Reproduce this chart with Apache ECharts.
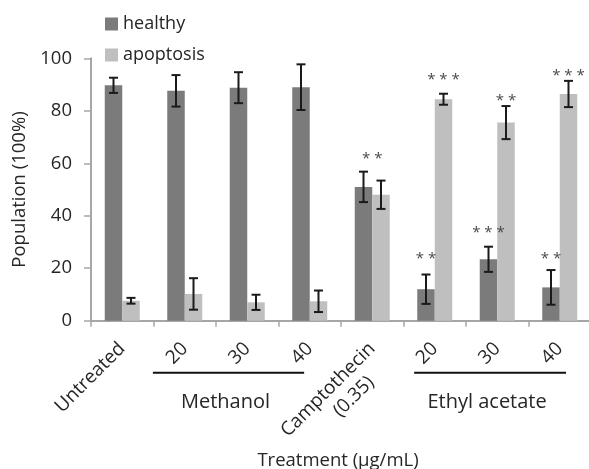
<!DOCTYPE html>
<html>
<head>
<meta charset="utf-8">
<script src="https://cdn.jsdelivr.net/npm/echarts@6/dist/echarts.min.js"></script>
<style>html,body{margin:0;padding:0;background:#fff;}#c{width:589px;height:469px;}</style>
</head>
<body>
<div id="c"></div>
<script>
// ---- data ----
var categories = ['Untreated', '20', '30', '40', 'Camptothecin\n(0.35)', '20', '30', '40'];
var seriesNames = ['healthy', 'apoptosis'];
var healthy = [89.7, 87.6, 88.8, 89.0, 51.0, 12.0, 23.4, 12.7];
var healthyErr = [2.9, 6.0, 5.9, 8.7, 5.8, 5.6, 4.8, 6.6];
var apoptosis = [7.6, 10.2, 7.0, 7.4, 48.0, 84.4, 75.5, 86.4];
var apoptosisErr = [1.1, 6.0, 2.9, 4.1, 5.4, 2.1, 6.3, 5.0];
// significance marks (text, and level in data units)
var healthySigText = ['', '', '', '', '', '* *', '* * *', '* *'];
var healthySigY = [null, null, null, null, null, 25.3, 35.1, 25.3];
var apoptosisSigText = ['', '', '', '', '', '* * *', '* *', '* * *'];
var apoptosisSigY = [null, null, null, null, null, 93.3, 85.4, 94.7];
var groupSigText = ['', '', '', '', '* *', '', '', ''];
var groupSigY = [null, null, null, null, 63.1, null, null, null];
// category group brackets (span in category units)
var groupNames = ['Methanol', 'Ethyl acetate'];
var groupFrom = [0.49, 4.67];
var groupTo = [2.91, 7.1];
var yTicks = [0, 20, 40, 60, 80, 100];
var xAxisName = 'Treatment (µg/mL)';
var yAxisName = 'Population (100%)';

// ---- chart ----
var FONT = '"Open Sans", sans-serif';
var TXT = '#262626';
var AX = '#a6a6a6';
var colors = ['#7b7b7b', '#bfbfbf'];
var OFF = 0.14;      // bar centre offset in fraction of band
var LABEL_MARGIN = 25;
var NBSP = '\u00a0\u00a0\u00a0\u00a0\u00a0';

function errData(vals, errs) {
  return vals.map(function (v, i) { return [i, v, errs[i]]; });
}
function sigData(texts, ys) {
  var out = [];
  texts.forEach(function (t, i) { if (t) out.push([i, ys[i], t]); });
  return out;
}
function errRender(sign) {
  return function (params, api) {
    var i = api.value(0), v = api.value(1), e = api.value(2);
    var bw = api.size([1, 0])[0];
    var x = api.coord([i, v])[0] + sign * bw * OFF;
    var yt = api.coord([i, v + e])[1];
    var yb = api.coord([i, v - e])[1];
    var cap = 4.5;
    var st = { stroke: '#1a1a1a', lineWidth: 2 };
    return {
      type: 'group', children: [
        { type: 'line', shape: { x1: x, y1: yt, x2: x, y2: yb }, style: st },
        { type: 'line', shape: { x1: x - cap, y1: yt, x2: x + cap, y2: yt }, style: st },
        { type: 'line', shape: { x1: x - cap, y1: yb, x2: x + cap, y2: yb }, style: st }
      ]
    };
  };
}
function sigRender(sign) {
  return function (params, api) {
    var i = api.value(0), v = api.value(1);
    var bw = api.size([1, 0])[0];
    var p = api.coord([i, v]);
    return {
      type: 'text',
      style: {
        x: p[0] + sign * bw * OFF, y: p[1] + 4,
        text: api.value(2), align: 'center', verticalAlign: 'middle',
        fill: '#4a4a4a', font: '15px ' + FONT
      }
    };
  };
}

var groupData = groupNames.map(function (n, k) { return [groupFrom[k], groupTo[k], n]; });
// multi-line category labels drawn separately (rotated, first line aligned like the others)
var multiLabelData = [];
categories.forEach(function (c, i) { if (c.indexOf('\n') >= 0) multiLabelData.push([i, 0]); });

var option = {
  animation: false,
  backgroundColor: '#fff',
  textStyle: { fontFamily: FONT },
  legend: {
    data: seriesNames,
    orient: 'vertical', left: 100, top: 10,
    icon: 'rect', itemWidth: 13, itemHeight: 13, itemGap: 13,
    textStyle: { fontSize: 18, color: TXT, fontFamily: FONT }
  },
  grid: { left: 91, top: 58.3, width: 500, height: 262.4, containLabel: false, outerBoundsMode: 'none' },
  xAxis: {
    type: 'category',
    data: categories,
    axisLine: { show: true, lineStyle: { color: AX, width: 2 } },
    axisTick: { show: true, length: 6, lineStyle: { color: AX, width: 1.5 } },
    axisLabel: {
      rotate: 45, margin: LABEL_MARGIN, fontSize: 19, color: TXT, fontFamily: FONT, interval: 0,
      formatter: function (v) { return v.indexOf('\n') >= 0 ? '' : v; }
    },
    name: xAxisName, nameLocation: 'middle', nameGap: 131,
    nameTextStyle: { fontSize: 18.5, color: TXT, fontFamily: FONT, padding: [0, 6, 0, 0] }
  },
  yAxis: {
    type: 'value', min: 0, max: 100, interval: 20,
    axisLine: { show: true, lineStyle: { color: AX, width: 2 } },
    axisTick: { show: true, length: 7, lineStyle: { color: AX, width: 1.5 } },
    splitLine: { show: false },
    axisLabel: {
      margin: 19, fontSize: 18.5, color: TXT, fontFamily: FONT,
      formatter: function (v) { return yTicks.indexOf(v) >= 0 ? String(v) : ''; }
    },
    name: yAxisName, nameLocation: 'middle', nameGap: 52,
    nameTextStyle: { fontSize: 18.5, color: TXT, fontFamily: FONT }
  },
  series: [
    { name: seriesNames[0], type: 'bar', data: healthy, barWidth: '28%', barGap: '0%', itemStyle: { color: colors[0] } },
    { name: seriesNames[1], type: 'bar', data: apoptosis, barWidth: '28%', barGap: '0%', itemStyle: { color: colors[1] } },
    { type: 'custom', data: errData(healthy, healthyErr), renderItem: errRender(-1), z: 5, silent: true },
    { type: 'custom', data: errData(apoptosis, apoptosisErr), renderItem: errRender(1), z: 5, silent: true },
    { type: 'custom', data: sigData(healthySigText, healthySigY), renderItem: sigRender(-1), z: 5, silent: true },
    { type: 'custom', data: sigData(apoptosisSigText, apoptosisSigY), renderItem: sigRender(1), z: 5, silent: true },
    { type: 'custom', data: sigData(groupSigText, groupSigY), renderItem: sigRender(0), z: 5, silent: true },
    {
      type: 'custom', data: multiLabelData, z: 5, silent: true, clip: false,
      renderItem: function (params, api) {
        var i = api.value(0);
        var p = api.coord([i, 0]);
        var parts = categories[i].split('\n');
        return {
          type: 'text', x: p[0], y: p[1] + LABEL_MARGIN, rotation: Math.PI / 4,
          style: {
            x: 0, y: -11.5, text: parts[0] + '\n' + parts[1] + NBSP,
            align: 'right', verticalAlign: 'top', lineHeight: 23,
            fill: TXT, font: '19px ' + FONT
          }
        };
      }
    },
    {
      type: 'custom', data: groupData, z: 5, silent: true, clip: false,
      renderItem: function (params, api) {
        var bw = api.size([1, 0])[0];
        var base = api.coord([0, 0]);
        var x1 = base[0] + api.value(0) * bw;
        var x2 = base[0] + api.value(1) * bw;
        var y = base[1];
        return {
          type: 'group', children: [
            { type: 'line', shape: { x1: x1, y1: y + 52, x2: x2, y2: y + 52 }, style: { stroke: '#111', lineWidth: 2 } },
            { type: 'text', style: { x: (x1 + x2) / 2 - 3, y: y + 82, text: api.value(2), align: 'center', verticalAlign: 'middle', fill: TXT, font: '20px ' + FONT } }
          ]
        };
      }
    }
  ]
};
var chart = echarts.init(document.getElementById('c'), null, { renderer: 'canvas' });
chart.setOption(option);
</script>
</body>
</html>
